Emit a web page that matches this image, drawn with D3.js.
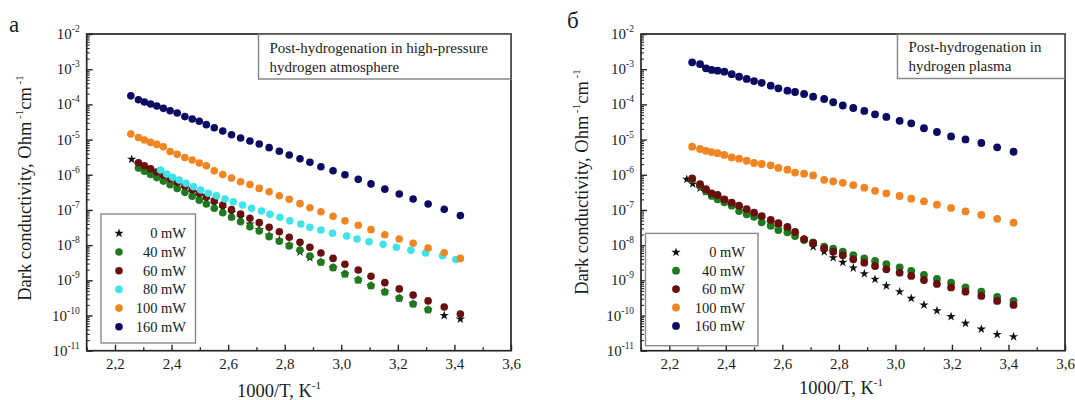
<!DOCTYPE html>
<html>
<head>
<meta charset="utf-8">
<script src="https://cdn.jsdelivr.net/npm/d3@7"></script>
<style>
  body { margin: 0; background: #fff; }
  svg { display: block; }
  text { font-family: "Liberation Serif", "Times New Roman", serif; fill: #1c1c1c; }
</style>
</head>
<body>
<svg id="chart" width="1075" height="400"></svg>
<script>
// ---------- axis ticks ----------
const xTickValues = [2.2, 2.4, 2.6, 2.8, 3.0, 3.2, 3.4, 3.6];
const xMinorValues = [2.1, 2.3, 2.5, 2.7, 2.9, 3.1, 3.3, 3.5];
const yTickExponents = [-2, -3, -4, -5, -6, -7, -8, -9, -10, -11];

// ---------- legend labels ----------
const legendA = ["0 mW", "40 mW", "60 mW", "80 mW", "100 mW", "160 mW"];
const legendB = ["0 mW", "40 mW", "60 mW", "100 mW", "160 mW"];

// ---------- panel (a): high-pressure hydrogen atmosphere ----------
const a0x   = [2.259, 2.283, 2.304, 2.326, 2.348, 2.371, 2.395, 2.420, 2.447, 2.473, 2.498, 2.523, 2.551, 2.581, 2.612, 2.644, 2.677, 2.710, 2.745, 2.781, 2.816, 2.854, 2.889, 2.928, 2.971, 3.013, 3.060, 3.105, 3.154, 3.205, 3.254, 3.307, 3.364, 3.421];
const a0y   = [2.75e-6, 2.0e-6, 1.62e-6, 1.32e-6, 1.07e-6, 8.5e-7, 6.8e-7, 5.2e-7, 4.1e-7, 3.2e-7, 2.5e-7, 1.95e-7, 1.48e-7, 1.12e-7, 8.3e-8, 6.2e-8, 4.0e-8, 2.8e-8, 1.9e-8, 1.38e-8, 1.0e-8, 6.4e-9, 4.4e-9, 3.3e-9, 2.3e-9, 1.51e-9, 1.02e-9, 7.1e-10, 4.7e-10, 3.1e-10, 2.14e-10, 1.45e-10, 1.0e-10, 7.9e-11];
const a40x  = [2.283, 2.304, 2.326, 2.348, 2.371, 2.395, 2.420, 2.447, 2.473, 2.498, 2.523, 2.551, 2.581, 2.612, 2.644, 2.677, 2.710, 2.745, 2.781, 2.816, 2.854, 2.889, 2.928, 2.971, 3.013, 3.060, 3.105, 3.154, 3.205, 3.254, 3.307];
const a40y  = [1.55e-6, 1.26e-6, 1.02e-6, 8.3e-7, 6.6e-7, 5.2e-7, 4.1e-7, 3.16e-7, 2.45e-7, 1.9e-7, 1.48e-7, 1.12e-7, 8.3e-8, 6.2e-8, 4.6e-8, 3.34e-8, 2.52e-8, 1.74e-8, 1.29e-8, 9.5e-9, 7.3e-9, 4.9e-9, 3.25e-9, 2.29e-9, 1.51e-9, 1.02e-9, 7.0e-10, 4.66e-10, 3.08e-10, 2.12e-10, 1.46e-10];
const a60x  = [2.283, 2.304, 2.326, 2.348, 2.371, 2.395, 2.420, 2.447, 2.473, 2.498, 2.523, 2.551, 2.581, 2.612, 2.644, 2.677, 2.710, 2.745, 2.781, 2.816, 2.854, 2.889, 2.928, 2.971, 3.013, 3.060, 3.105, 3.154, 3.205, 3.254, 3.307, 3.364, 3.421];
const a60y  = [2.19e-6, 1.80e-6, 1.47e-6, 1.20e-6, 9.7e-7, 7.7e-7, 6.1e-7, 4.8e-7, 3.75e-7, 2.98e-7, 2.36e-7, 1.82e-7, 1.38e-7, 1.03e-7, 7.7e-8, 5.8e-8, 4.35e-8, 3.2e-8, 2.4e-8, 1.67e-8, 1.2e-8, 8.7e-9, 6.0e-9, 4.2e-9, 2.86e-9, 1.97e-9, 1.3e-9, 8.6e-10, 5.7e-10, 3.8e-10, 2.6e-10, 1.75e-10, 1.1e-10];
const a80x  = [2.361, 2.383, 2.404, 2.427, 2.451, 2.477, 2.503, 2.530, 2.559, 2.589, 2.618, 2.651, 2.683, 2.718, 2.748, 2.783, 2.818, 2.857, 2.889, 2.928, 2.969, 3.019, 3.056, 3.098, 3.148, 3.195, 3.246, 3.298, 3.358, 3.405];
const a80y  = [1.36e-6, 1.05e-6, 8.5e-7, 7.1e-7, 5.7e-7, 4.6e-7, 3.7e-7, 2.97e-7, 2.54e-7, 2.05e-7, 1.71e-7, 1.38e-7, 1.11e-7, 9.3e-8, 7.5e-8, 6.2e-8, 4.9e-8, 4.0e-8, 3.2e-8, 2.7e-8, 2.17e-8, 1.82e-8, 1.49e-8, 1.25e-8, 1.06e-8, 8.7e-9, 7.1e-9, 6.0e-9, 5.0e-9, 3.9e-9];
const a100x = [2.256, 2.283, 2.304, 2.326, 2.348, 2.371, 2.395, 2.420, 2.447, 2.473, 2.498, 2.523, 2.551, 2.581, 2.612, 2.644, 2.677, 2.710, 2.745, 2.781, 2.816, 2.854, 2.889, 2.928, 2.971, 3.013, 3.060, 3.105, 3.154, 3.205, 3.254, 3.307, 3.364, 3.421];
const a100y = [1.44e-5, 1.15e-5, 9.7e-6, 8.3e-6, 7.3e-6, 6.2e-6, 4.6e-6, 3.8e-6, 3.1e-6, 2.62e-6, 2.16e-6, 1.81e-6, 1.3e-6, 1.02e-6, 8.1e-7, 6.3e-7, 5.3e-7, 4.1e-7, 3.3e-7, 2.54e-7, 2.01e-7, 1.51e-7, 1.16e-7, 8.9e-8, 6.6e-8, 4.9e-8, 3.66e-8, 2.75e-8, 1.98e-8, 1.50e-8, 1.13e-8, 8.3e-9, 6.1e-9, 4.2e-9];
const a160x = [2.256, 2.283, 2.304, 2.326, 2.348, 2.371, 2.395, 2.420, 2.447, 2.473, 2.498, 2.523, 2.551, 2.581, 2.612, 2.644, 2.677, 2.710, 2.745, 2.781, 2.816, 2.854, 2.889, 2.928, 2.971, 3.013, 3.060, 3.105, 3.154, 3.205, 3.254, 3.307, 3.364, 3.421];
const a160y = [1.75e-4, 1.36e-4, 1.17e-4, 1.03e-4, 9.0e-5, 7.7e-5, 6.6e-5, 5.7e-5, 4.5e-5, 3.85e-5, 3.3e-5, 2.65e-5, 2.17e-5, 1.75e-5, 1.37e-5, 1.11e-5, 9.1e-6, 7.5e-6, 5.9e-6, 4.65e-6, 3.65e-6, 2.86e-6, 2.26e-6, 1.69e-6, 1.30e-6, 1.0e-6, 7.4e-7, 5.5e-7, 3.9e-7, 2.84e-7, 2.05e-7, 1.48e-7, 1.04e-7, 6.9e-8];

// ---------- panel (б): hydrogen plasma ----------
const b0x   = [2.262, 2.283, 2.309, 2.330, 2.350, 2.371, 2.395, 2.421, 2.447, 2.474, 2.500, 2.527, 2.559, 2.586, 2.618, 2.645, 2.677, 2.709, 2.748, 2.780, 2.814, 2.851, 2.890, 2.928, 2.968, 3.015, 3.056, 3.101, 3.147, 3.197, 3.248, 3.304, 3.360, 3.418];
const b0y   = [7.4e-7, 5.5e-7, 4.2e-7, 3.3e-7, 2.7e-7, 2.3e-7, 1.82e-7, 1.45e-7, 1.12e-7, 8.9e-8, 7.2e-8, 5.5e-8, 4.3e-8, 3.3e-8, 2.7e-8, 2.04e-8, 1.48e-8, 9.0e-9, 6.5e-9, 4.4e-9, 3.25e-9, 2.24e-9, 1.54e-9, 1.07e-9, 7.0e-10, 4.75e-10, 3.08e-10, 1.99e-10, 1.37e-10, 9.3e-11, 6.0e-11, 4.1e-11, 2.9e-11, 2.5e-11];
const b40x  = [2.281, 2.309, 2.330, 2.350, 2.371, 2.395, 2.421, 2.447, 2.474, 2.500, 2.527, 2.559, 2.586, 2.618, 2.645, 2.677, 2.709, 2.748, 2.780, 2.814, 2.851, 2.890, 2.928, 2.968, 3.015, 3.056, 3.101, 3.147, 3.197, 3.248, 3.304, 3.360, 3.418];
const b40y  = [7.4e-7, 4.8e-7, 3.4e-7, 2.5e-7, 2.01e-7, 1.65e-7, 1.32e-7, 9.3e-8, 7.5e-8, 6.4e-8, 4.45e-8, 3.56e-8, 2.69e-8, 2.32e-8, 1.82e-8, 1.40e-8, 1.20e-8, 9.0e-9, 7.9e-9, 6.5e-9, 5.2e-9, 4.2e-9, 3.54e-9, 2.86e-9, 2.34e-9, 1.84e-9, 1.42e-9, 1.09e-9, 8.6e-10, 6.3e-10, 4.75e-10, 3.36e-10, 2.59e-10];
const b60x  = [2.281, 2.309, 2.330, 2.350, 2.371, 2.395, 2.421, 2.447, 2.474, 2.500, 2.527, 2.559, 2.586, 2.618, 2.645, 2.677, 2.709, 2.748, 2.780, 2.814, 2.851, 2.890, 2.928, 2.968, 3.015, 3.056, 3.101, 3.147, 3.197, 3.248, 3.304, 3.360, 3.418];
const b60y  = [7.9e-7, 5.4e-7, 3.9e-7, 2.97e-7, 2.66e-7, 2.01e-7, 1.61e-7, 1.32e-7, 1.06e-7, 8.4e-8, 6.7e-8, 5.2e-8, 4.2e-8, 3.3e-8, 2.36e-8, 1.49e-8, 1.13e-8, 8.1e-9, 6.5e-9, 5.2e-9, 3.96e-9, 3.17e-9, 2.55e-9, 2.06e-9, 1.65e-9, 1.33e-9, 1.02e-9, 7.9e-10, 6.3e-10, 4.75e-10, 3.6e-10, 2.6e-10, 2.0e-10];
const b100x = [2.281, 2.309, 2.330, 2.350, 2.371, 2.395, 2.421, 2.447, 2.474, 2.500, 2.527, 2.559, 2.586, 2.618, 2.645, 2.677, 2.709, 2.748, 2.780, 2.814, 2.851, 2.890, 2.928, 2.968, 3.015, 3.056, 3.101, 3.147, 3.197, 3.248, 3.304, 3.360, 3.418];
const b100y = [6.3e-6, 5.4e-6, 4.8e-6, 4.4e-6, 4.1e-6, 3.65e-6, 3.1e-6, 2.86e-6, 2.5e-6, 2.16e-6, 2.02e-6, 1.85e-6, 1.56e-6, 1.39e-6, 1.15e-6, 1.07e-6, 9.6e-7, 7.2e-7, 6.5e-7, 5.9e-7, 5.1e-7, 4.3e-7, 3.5e-7, 2.97e-7, 2.49e-7, 2.09e-7, 1.76e-7, 1.41e-7, 1.14e-7, 9.1e-8, 7.2e-8, 5.6e-8, 4.35e-8];
const b160x = [2.281, 2.309, 2.330, 2.350, 2.371, 2.395, 2.421, 2.447, 2.474, 2.500, 2.527, 2.559, 2.586, 2.618, 2.645, 2.677, 2.709, 2.748, 2.780, 2.814, 2.851, 2.890, 2.928, 2.968, 3.015, 3.056, 3.101, 3.147, 3.197, 3.248, 3.304, 3.360, 3.418];
const b160y = [1.57e-3, 1.40e-3, 1.06e-3, 9.5e-4, 9.05e-4, 8.5e-4, 7.2e-4, 6.1e-4, 5.3e-4, 4.6e-4, 4.1e-4, 3.4e-4, 2.86e-4, 2.45e-4, 2.25e-4, 1.97e-4, 1.65e-4, 1.42e-4, 1.15e-4, 9.3e-5, 7.9e-5, 6.5e-5, 5.2e-5, 4.4e-5, 3.4e-5, 2.9e-5, 2.1e-5, 1.64e-5, 1.23e-5, 1.01e-5, 8.0e-6, 6.0e-6, 4.5e-6];

// ---------- styling ----------
const seriesColor = {
  "0 mW": "#111111",
  "40 mW": "#1f7a1f",
  "60 mW": "#6a0f0f",
  "80 mW": "#3fe3ea",
  "100 mW": "#f08522",
  "160 mW": "#0b0b62"
};
const frameColor = "#262626";
const boxColor = "#8a8a8a";
const starSize = 27;

const svg = d3.select("#chart");

function toPoints(xs, ys) {
  return xs.map((x, i) => ({ x: x, y: ys[i] }));
}

function drawPanel(cfg) {
  const x = d3.scaleLinear().domain([2.1, 3.6]).range([cfg.left, cfg.right]);
  const y = d3.scaleLog().domain([1e-11, 1e-2]).range([cfg.bottom, cfg.top]);
  const g = svg.append("g");

  // minor x ticks
  g.append("g")
    .attr("transform", `translate(0,${cfg.bottom})`)
    .call(d3.axisBottom(x).tickValues(xMinorValues).tickSizeInner(-3.5).tickSizeOuter(0).tickFormat(""))
    .call(a => a.select(".domain").remove())
    .call(a => a.selectAll("line").attr("stroke", frameColor).attr("stroke-width", 1.3));

  // major x ticks with comma decimals
  g.append("g")
    .attr("transform", `translate(0,${cfg.bottom})`)
    .call(d3.axisBottom(x).tickValues(xTickValues).tickSizeInner(-6).tickSizeOuter(0).tickPadding(8)
      .tickFormat(d => d.toFixed(1).replace(".", ",")))
    .call(a => a.select(".domain").remove())
    .call(a => a.selectAll("line").attr("stroke", frameColor).attr("stroke-width", 1.4))
    .call(a => a.selectAll("text")
      .attr("font-family", "'Liberation Serif', serif").attr("font-size", 15).attr("fill", "#1c1c1c"));

  // minor y ticks (2..9 within every decade)
  const minorY = [];
  for (let k = -11; k < -2; k++) for (let m = 2; m <= 9; m++) minorY.push(m * Math.pow(10, k));
  g.append("g")
    .attr("transform", `translate(${cfg.left},0)`)
    .call(d3.axisLeft(y).tickValues(minorY).tickSizeInner(-3).tickSizeOuter(0).tickFormat(""))
    .call(a => a.select(".domain").remove())
    .call(a => a.selectAll("line").attr("stroke", frameColor).attr("stroke-width", 1.1));

  // major y ticks
  g.append("g")
    .attr("transform", `translate(${cfg.left},0)`)
    .call(d3.axisLeft(y).tickValues(yTickExponents.map(e => Math.pow(10, e))).tickSizeInner(-6).tickSizeOuter(0).tickFormat(""))
    .call(a => a.select(".domain").remove())
    .call(a => a.selectAll("line").attr("stroke", frameColor).attr("stroke-width", 1.4));

  // y tick labels as 10 with a superscript exponent
  const yl = g.append("g");
  yTickExponents.forEach(e => {
    const t = yl.append("text")
      .attr("x", cfg.left - 7)
      .attr("y", y(Math.pow(10, e)) + 5)
      .attr("text-anchor", "end")
      .attr("font-size", 15);
    t.append("tspan").text("10");
    t.append("tspan").attr("dy", -7).attr("font-size", 9.5).text(String(e));
  });

  // frame
  g.append("rect")
    .attr("x", cfg.left).attr("y", cfg.top)
    .attr("width", cfg.right - cfg.left).attr("height", cfg.bottom - cfg.top)
    .attr("fill", "none").attr("stroke", frameColor).attr("stroke-width", 1.7);

  // data points, drawn in legend order so later series sit on top
  cfg.series.forEach(s => {
    const pts = toPoints(s.x, s.y);
    if (s.name === "0 mW") {
      g.append("g").selectAll("path").data(pts).join("path")
        .attr("transform", d => `translate(${x(d.x)},${y(d.y)})`)
        .attr("d", d3.symbol(d3.symbolStar, starSize))
        .attr("fill", seriesColor[s.name]);
    } else {
      g.append("g").selectAll("circle").data(pts).join("circle")
        .attr("cx", d => x(d.x)).attr("cy", d => y(d.y))
        .attr("r", cfg.r)
        .attr("fill", seriesColor[s.name]);
    }
  });

  // annotation box at the top right corner
  const ab = cfg.note;
  g.append("rect")
    .attr("x", ab.x).attr("y", cfg.top)
    .attr("width", cfg.right - ab.x).attr("height", ab.bottom - cfg.top)
    .attr("fill", "#fff").attr("stroke", boxColor).attr("stroke-width", 1.5);
  ab.lines.forEach((line, i) => {
    g.append("text").attr("x", ab.x + 11).attr("y", ab.baseline + i * ab.gap)
      .attr("font-size", 15).text(line);
  });
  // keep the frame edges visible over the box border
  g.append("path")
    .attr("d", `M${ab.x},${cfg.top}H${cfg.right}V${ab.bottom}`)
    .attr("fill", "none").attr("stroke", frameColor).attr("stroke-width", 1.7)
    .attr("opacity", 0.55);

  // legend
  const lg = cfg.legend;
  g.append("rect")
    .attr("x", lg.x0).attr("y", lg.y0)
    .attr("width", lg.x1 - lg.x0).attr("height", lg.y1 - lg.y0)
    .attr("fill", "#fff").attr("stroke", boxColor).attr("stroke-width", 1.4);
  cfg.legendNames.forEach((name, i) => {
    const cy = lg.first + i * lg.step;
    if (name === "0 mW") {
      g.append("path").attr("transform", `translate(${lg.marker},${cy})`)
        .attr("d", d3.symbol(d3.symbolStar, starSize)).attr("fill", seriesColor[name]);
    } else {
      g.append("circle").attr("cx", lg.marker).attr("cy", cy).attr("r", cfg.r)
        .attr("fill", seriesColor[name]);
    }
    g.append("text").attr("x", lg.textEnd).attr("y", cy + 5)
      .attr("text-anchor", "end").attr("font-size", 14.5).text(name);
  });

  // axis titles
  const xt = g.append("text")
    .attr("x", cfg.xTitle.x).attr("y", cfg.xTitle.y)
    .attr("text-anchor", "middle").attr("font-size", 18.5);
  xt.append("tspan").text("1000/T, K");
  xt.append("tspan").attr("dy", -8).attr("font-size", 11).text("-1");

  const yt = g.append("text")
    .attr("transform", `translate(${cfg.yTitle.x},${cfg.yTitle.y}) rotate(-90)`)
    .attr("text-anchor", "middle").attr("font-size", 18.5);
  yt.append("tspan").text("Dark conductivity, Ohm");
  yt.append("tspan").attr("dy", -8).attr("font-size", 11).text(" -1");
  yt.append("tspan").attr("dy", 8).text("cm");
  yt.append("tspan").attr("dy", -8).attr("font-size", 11).text(" -1");

  // panel letter
  g.append("text").attr("x", cfg.letter.x).attr("y", cfg.letter.y)
    .attr("font-size", 23).text(cfg.letter.text);
}

drawPanel({
  left: 86.7, right: 511, top: 34, bottom: 350.7, r: 3.8,
  series: [
    { name: "0 mW", x: a0x, y: a0y },
    { name: "40 mW", x: a40x, y: a40y },
    { name: "60 mW", x: a60x, y: a60y },
    { name: "80 mW", x: a80x, y: a80y },
    { name: "100 mW", x: a100x, y: a100y },
    { name: "160 mW", x: a160x, y: a160y }
  ],
  legendNames: legendA,
  note: { x: 258.5, bottom: 79, baseline: 52.5, gap: 19.5,
          lines: ["Post-hydrogenation in high-pressure", "hydrogen atmosphere"] },
  legend: { x0: 101, x1: 195.5, y0: 214, y1: 343, first: 233.3, step: 18.7, marker: 119, textEnd: 186 },
  xTitle: { x: 279, y: 397 },
  yTitle: { x: 31, y: 188 },
  letter: { x: 9, y: 32, text: "а" }
});

drawPanel({
  left: 641, right: 1065, top: 34, bottom: 350.7, r: 3.9,
  series: [
    { name: "0 mW", x: b0x, y: b0y },
    { name: "40 mW", x: b40x, y: b40y },
    { name: "60 mW", x: b60x, y: b60y },
    { name: "100 mW", x: b100x, y: b100y },
    { name: "160 mW", x: b160x, y: b160y }
  ],
  legendNames: legendB,
  note: { x: 897.5, bottom: 78.5, baseline: 51.5, gap: 19.5,
          lines: ["Post-hydrogenation in", "hydrogen plasma"] },
  legend: { x0: 645.5, x1: 758, y0: 233.4, y1: 345.7, first: 252.3, step: 18.4, marker: 676, textEnd: 745 },
  xTitle: { x: 841, y: 394 },
  yTitle: { x: 588, y: 182 },
  letter: { x: 567, y: 28, text: "б" }
});
</script>
</body>
</html>
